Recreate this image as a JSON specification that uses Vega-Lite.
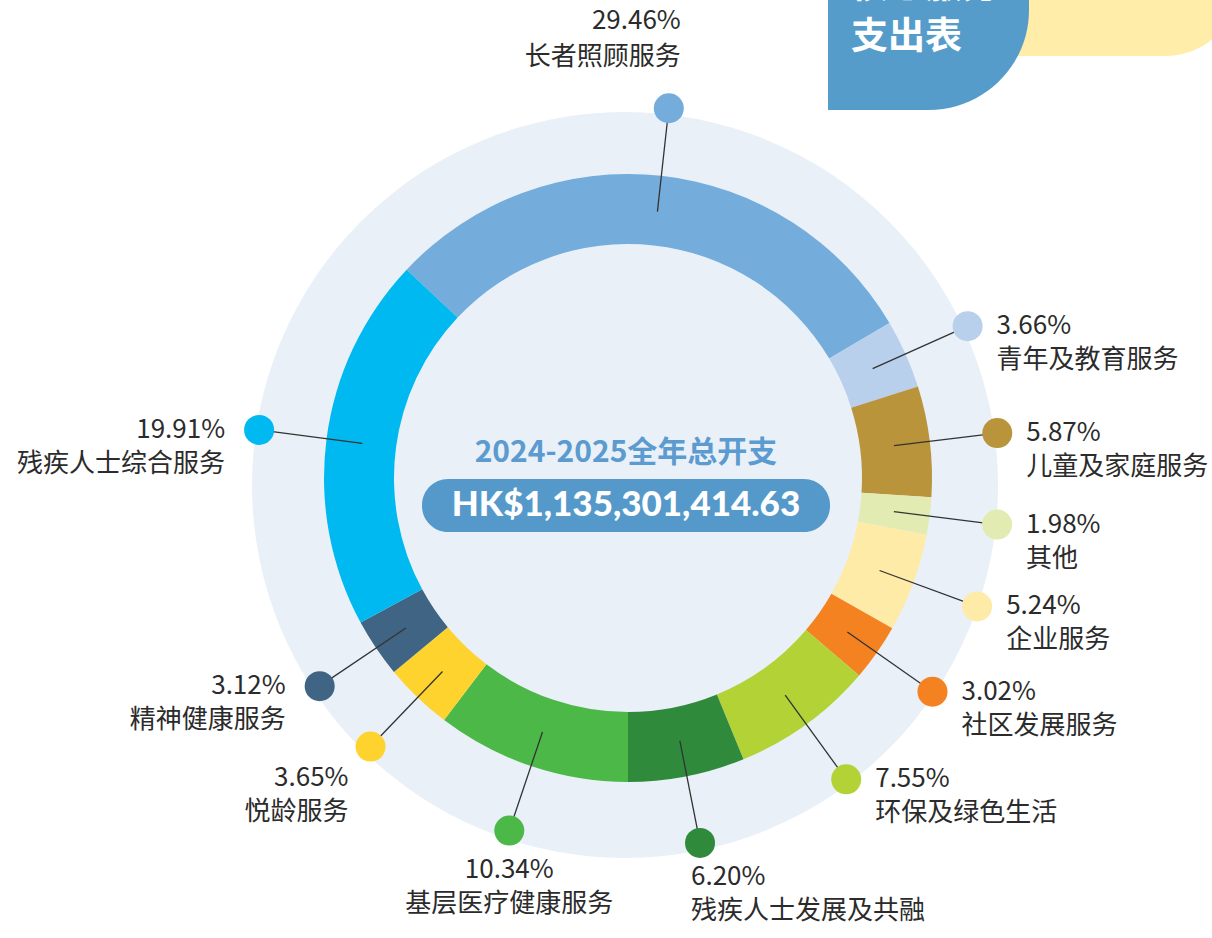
{
  "$schema": "https://vega.github.io/schema/vega-lite/v6.json",
  "width": 1170,
  "height": 922,
  "autosize": {"type": "none"},
  "padding": {"left": 43, "top": 17, "right": 0, "bottom": 0},
  "background": "#ffffff",
  "config": {"view": {"stroke": null}, "text": {"font": "Noto Sans CJK SC"}},
  "datasets": {
    "seg": [
      {"category": "长者照顾服务", "value": 29.46},
      {"category": "青年及教育服务", "value": 3.66},
      {"category": "儿童及家庭服务", "value": 5.87},
      {"category": "其他", "value": 1.98},
      {"category": "企业服务", "value": 5.24},
      {"category": "社区发展服务", "value": 3.02},
      {"category": "环保及绿色生活", "value": 7.55},
      {"category": "残疾人士发展及共融", "value": 6.20},
      {"category": "基层医疗健康服务", "value": 10.34},
      {"category": "悦龄服务", "value": 3.65},
      {"category": "精神健康服务", "value": 3.12},
      {"category": "残疾人士综合服务", "value": 19.91}
    ]
  },
  "layer": [
    {
      "data": {"values": [{}]},
      "mark": {"type": "rect", "color": "#FFEDA9", "cornerRadiusBottomRight": 75},
      "encoding": {
        "x": {"datum": 350, "type": "quantitative", "scale": {"domain": [-585, 585], "nice": false, "zero": false}, "axis": null},
        "x2": {"datum": 612},
        "y": {"datum": 578, "type": "quantitative", "scale": {"domain": [-461, 461], "nice": false, "zero": false}, "axis": null},
        "y2": {"datum": 422}
      }
    },
    {
      "data": {"values": [{}]},
      "mark": {"type": "rect", "color": "#569CCB", "cornerRadiusBottomRight": 100},
      "encoding": {
        "x": {"datum": 200, "type": "quantitative", "scale": {"domain": [-585, 585], "nice": false, "zero": false}, "axis": null},
        "x2": {"datum": 401},
        "y": {"datum": 578, "type": "quantitative", "scale": {"domain": [-461, 461], "nice": false, "zero": false}, "axis": null},
        "y2": {"datum": 368}
      }
    },
    {
      "data": {"values": [{}]},
      "mark": {"type": "text", "text": "核心服务", "fontSize": 37, "fontWeight": "bold", "color": "#ffffff", "align": "left", "baseline": "middle"},
      "encoding": {
        "x": {"datum": 223, "type": "quantitative", "scale": {"domain": [-585, 585], "nice": false, "zero": false}, "axis": null},
        "y": {"datum": 491, "type": "quantitative", "scale": {"domain": [-461, 461], "nice": false, "zero": false}, "axis": null}
      }
    },
    {
      "data": {"values": [{}]},
      "mark": {"type": "text", "text": "支出表", "fontSize": 37, "fontWeight": "bold", "color": "#ffffff", "align": "left", "baseline": "middle"},
      "encoding": {
        "x": {"datum": 223, "type": "quantitative", "scale": {"domain": [-585, 585], "nice": false, "zero": false}, "axis": null},
        "y": {"datum": 440, "type": "quantitative", "scale": {"domain": [-461, 461], "nice": false, "zero": false}, "axis": null}
      }
    },
    {
      "data": {"values": [{}]},
      "mark": {"type": "arc", "color": "#E9F0F8", "innerRadius": 0, "outerRadius": 373, "theta": 0, "theta2": 6.2832},
      "encoding": {
        "x": {"datum": -3, "type": "quantitative", "scale": {"domain": [-585, 585], "nice": false, "zero": false}, "axis": null},
        "y": {"datum": -7, "type": "quantitative", "scale": {"domain": [-461, 461], "nice": false, "zero": false}, "axis": null}
      }
    },
    {
      "data": {"name": "seg"},
      "transform": [{"window": [{"op": "row_number", "as": "idx"}]}],
      "mark": {"type": "arc", "innerRadius": 234, "outerRadius": 304},
      "encoding": {
        "theta": {"field": "value", "type": "quantitative", "stack": true, "scale": {"domain": [0, 100], "range": [-0.8156, 5.4676]}},
        "order": {"field": "idx", "type": "quantitative"},
        "color": {
          "field": "category", "type": "nominal", "legend": null,
          "scale": {
            "domain": ["长者照顾服务", "青年及教育服务", "儿童及家庭服务", "其他", "企业服务", "社区发展服务", "环保及绿色生活", "残疾人士发展及共融", "基层医疗健康服务", "悦龄服务", "精神健康服务", "残疾人士综合服务"],
            "range": ["#74ADDC", "#B8D0EC", "#B9943A", "#E2EBB1", "#FFEBA8", "#F58220", "#B3D236", "#2F8A3B", "#4CB848", "#FFD32E", "#3F6484", "#00B9F0"]
          }
        }
      }
    },
    {
      "data": {"name": "seg"},
      "transform": [
        {"window": [{"op": "sum", "field": "value", "as": "cum"}], "frame": [null, 0]},
        {"calculate": "-0.8156 + (datum.cum - datum.value / 2) / 100 * 2 * PI", "as": "ang"},
        {"calculate": "((datum.ang * 180 / PI) % 360 + 360) % 360", "as": "deg"},
        {"calculate": "268 * sin(datum.ang)", "as": "lx0"},
        {"calculate": "268 * cos(datum.ang)", "as": "ly0"},
        {"calculate": "372 * sin(datum.ang)", "as": "lx1"},
        {"calculate": "372 * cos(datum.ang)", "as": "ly1"},
        {"calculate": "format(datum.value, '.2f') + '%\\n' + datum.category", "as": "label"}
      ],
      "layer": [
        {
          "mark": {"type": "rule", "color": "#333333", "strokeWidth": 1.3},
          "encoding": {
            "x": {"field": "lx0", "type": "quantitative", "scale": {"domain": [-585, 585], "nice": false, "zero": false}, "axis": null},
            "x2": {"field": "lx1"},
            "y": {"field": "ly0", "type": "quantitative", "scale": {"domain": [-461, 461], "nice": false, "zero": false}, "axis": null},
            "y2": {"field": "ly1"}
          }
        },
        {
          "mark": {"type": "point", "shape": "circle", "filled": true, "size": 900, "opacity": 1, "strokeWidth": 0},
          "encoding": {
            "x": {"field": "lx1", "type": "quantitative", "scale": {"domain": [-585, 585], "nice": false, "zero": false}, "axis": null},
            "y": {"field": "ly1", "type": "quantitative", "scale": {"domain": [-461, 461], "nice": false, "zero": false}, "axis": null},
            "color": {"field": "category", "type": "nominal", "legend": null}
          }
        },
        {
          "transform": [{"filter": "datum.deg >= 20 && datum.deg < 150"}],
          "mark": {"type": "text", "align": "left", "baseline": "top", "dx": 29, "dy": -13, "fontSize": 26, "lineHeight": 34, "lineBreak": "\n", "color": "#2b2b2b"},
          "encoding": {
            "x": {"field": "lx1", "type": "quantitative", "scale": {"domain": [-585, 585], "nice": false, "zero": false}, "axis": null},
            "y": {"field": "ly1", "type": "quantitative", "scale": {"domain": [-461, 461], "nice": false, "zero": false}, "axis": null},
            "text": {"field": "label", "type": "nominal"}
          }
        },
        {
          "transform": [{"filter": "datum.deg >= 230 && datum.deg <= 340"}],
          "mark": {"type": "text", "align": "right", "baseline": "top", "dx": -34, "dy": -13, "fontSize": 26, "lineHeight": 34, "lineBreak": "\n", "color": "#2b2b2b"},
          "encoding": {
            "x": {"field": "lx1", "type": "quantitative", "scale": {"domain": [-585, 585], "nice": false, "zero": false}, "axis": null},
            "y": {"field": "ly1", "type": "quantitative", "scale": {"domain": [-461, 461], "nice": false, "zero": false}, "axis": null},
            "text": {"field": "label", "type": "nominal"}
          }
        },
        {
          "transform": [{"filter": "datum.deg >= 210 && datum.deg < 230"}],
          "mark": {"type": "text", "align": "right", "baseline": "top", "dx": -22, "dy": 18, "fontSize": 26, "lineHeight": 34, "lineBreak": "\n", "color": "#2b2b2b"},
          "encoding": {
            "x": {"field": "lx1", "type": "quantitative", "scale": {"domain": [-585, 585], "nice": false, "zero": false}, "axis": null},
            "y": {"field": "ly1", "type": "quantitative", "scale": {"domain": [-461, 461], "nice": false, "zero": false}, "axis": null},
            "text": {"field": "label", "type": "nominal"}
          }
        },
        {
          "transform": [{"filter": "datum.deg < 20 || datum.deg > 340"}],
          "mark": {"type": "text", "align": "right", "baseline": "top", "dx": 12, "dy": -100, "fontSize": 26, "lineHeight": 36, "lineBreak": "\n", "color": "#2b2b2b"},
          "encoding": {
            "x": {"field": "lx1", "type": "quantitative", "scale": {"domain": [-585, 585], "nice": false, "zero": false}, "axis": null},
            "y": {"field": "ly1", "type": "quantitative", "scale": {"domain": [-461, 461], "nice": false, "zero": false}, "axis": null},
            "text": {"field": "label", "type": "nominal"}
          }
        },
        {
          "transform": [{"filter": "datum.deg >= 150 && datum.deg < 180"}],
          "mark": {"type": "text", "align": "left", "baseline": "top", "dx": -9, "dy": 21, "fontSize": 26, "lineHeight": 34, "lineBreak": "\n", "color": "#2b2b2b"},
          "encoding": {
            "x": {"field": "lx1", "type": "quantitative", "scale": {"domain": [-585, 585], "nice": false, "zero": false}, "axis": null},
            "y": {"field": "ly1", "type": "quantitative", "scale": {"domain": [-461, 461], "nice": false, "zero": false}, "axis": null},
            "text": {"field": "label", "type": "nominal"}
          }
        },
        {
          "transform": [{"filter": "datum.deg >= 180 && datum.deg < 210"}],
          "mark": {"type": "text", "align": "center", "baseline": "top", "dx": 0, "dy": 26, "fontSize": 26, "lineHeight": 34, "lineBreak": "\n", "color": "#2b2b2b"},
          "encoding": {
            "x": {"field": "lx1", "type": "quantitative", "scale": {"domain": [-585, 585], "nice": false, "zero": false}, "axis": null},
            "y": {"field": "ly1", "type": "quantitative", "scale": {"domain": [-461, 461], "nice": false, "zero": false}, "axis": null},
            "text": {"field": "label", "type": "nominal"}
          }
        }
      ]
    },
    {
      "data": {"values": [{}]},
      "mark": {"type": "text", "text": "2024-2025全年总开支", "fontSize": 30, "fontWeight": "bold", "color": "#5B9BD0", "align": "center", "baseline": "middle"},
      "encoding": {
        "x": {"datum": -2, "type": "quantitative", "scale": {"domain": [-585, 585], "nice": false, "zero": false}, "axis": null},
        "y": {"datum": 25, "type": "quantitative", "scale": {"domain": [-461, 461], "nice": false, "zero": false}, "axis": null}
      }
    },
    {
      "data": {"values": [{}]},
      "mark": {"type": "rect", "color": "#5599CB", "cornerRadius": 26},
      "encoding": {
        "x": {"datum": -206, "type": "quantitative", "scale": {"domain": [-585, 585], "nice": false, "zero": false}, "axis": null},
        "x2": {"datum": 202},
        "y": {"datum": -1, "type": "quantitative", "scale": {"domain": [-461, 461], "nice": false, "zero": false}, "axis": null},
        "y2": {"datum": -54}
      }
    },
    {
      "data": {"values": [{}]},
      "mark": {"type": "text", "text": "HK$1,135,301,414.63", "font": "Lato", "fontSize": 35, "fontWeight": 900, "color": "#ffffff", "align": "center", "baseline": "middle"},
      "encoding": {
        "x": {"datum": -2, "type": "quantitative", "scale": {"domain": [-585, 585], "nice": false, "zero": false}, "axis": null},
        "y": {"datum": -27, "type": "quantitative", "scale": {"domain": [-461, 461], "nice": false, "zero": false}, "axis": null}
      }
    }
  ]
}
